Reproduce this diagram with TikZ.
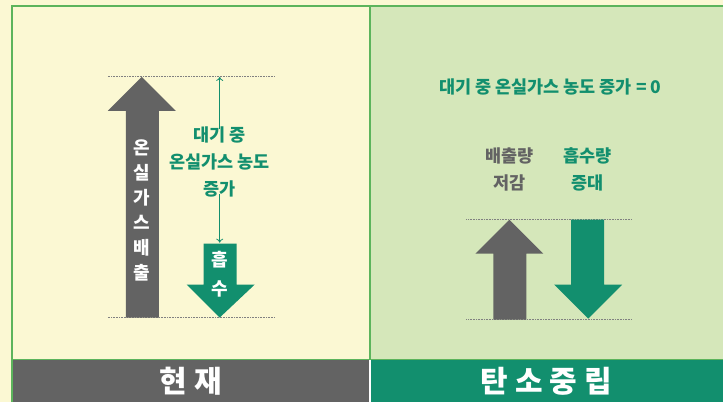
\documentclass[tikz,border=0pt]{standalone}
\usepackage{fontspec}
\newfontfamily\kr{Noto Sans CJK KR}
\usetikzlibrary{arrows.meta}
\definecolor{bgyellow}{RGB}{251,248,211}
\definecolor{bggreen}{RGB}{213,231,186}
\definecolor{framegreen}{RGB}{92,180,92}
\definecolor{ashgray}{RGB}{99,99,99}
\definecolor{sinkgreen}{RGB}{18,143,110}
\tikzset{
  guide/.style={gray, densely dotted, line width=0.6pt},
  label/.style={font=\kr\bfseries\fontsize{17.5}{27}\selectfont, align=center, inner sep=0pt},
  title/.style={font=\kr\bfseries\fontsize{30}{30}\selectfont, white, inner sep=0pt},
  pointer/.style={sinkgreen, line width=0.8pt, -{To[length=4pt,width=7pt]}}
}

\begin{document}
\begin{tikzpicture}[x=1pt,y=-1pt]
  \fill[bgyellow] (0,0) rectangle (724,403);
  \fill[bggreen] (371,6) rectangle (724,360);
  \fill[ashgray] (12,360) rectangle (370,403);
  \fill[sinkgreen] (372,360) rectangle (724,403);
  \fill[white] (370,360) rectangle (372,403);
  \draw[framegreen, line width=2pt] (724,6) -- (12,6) -- (12,403);
  \draw[framegreen, line width=2pt] (371,6) -- (371,360);
  \draw[framegreen, line width=1pt] (12,360) -- (724,360);

  \draw[guide] (108,76) -- (275,76);
  \draw[guide] (108,318) -- (275,318);
  \fill[ashgray] (126,318) -- (126,111) -- (108,111) -- (142,77) -- (176,111) -- (159,111) -- (159,318) -- cycle;
  \fill[sinkgreen] (204,244) -- (237,244) -- (237,285) -- (255,285) -- (220,318) -- (187,285) -- (204,285) -- cycle;
  \node[label, white, font=\kr\bfseries\fontsize{18}{25}\selectfont] (emit) at (142,211) {온\\실\\가\\스\\배\\출};
  \node[label, white, font=\kr\bfseries\fontsize{18}{29}\selectfont] (absorb) at (220,275) {흡\\수};
  \node[label, sinkgreen] (rise) at (220,162) {대기 중\\온실가스 농도\\증가};
  \coordinate (top) at (220,77);
  \coordinate (bottom) at (220,243);
  \draw[pointer] ([yshift=-3pt]rise.north) -- (top);
  \draw[pointer] ([yshift=3pt]rise.south) -- (bottom);

  \node[label, sinkgreen] (zero) at (551,87) {대기 중 온실가스 농도 증가 = 0};
  \node[label, ashgray] (cut) at (510,170) {배출량\\저감};
  \node[label, sinkgreen] (sink) at (588,170) {흡수량\\증대};
  \draw[guide] (467,220) -- (633,220);
  \draw[guide] (467,320) -- (633,320);
  \fill[ashgray] (494,320) -- (494,254) -- (476,254) -- (510,220) -- (544,254) -- (527,254) -- (527,320) -- cycle;
  \fill[sinkgreen] (572,220) -- (605,220) -- (605,285) -- (623,285) -- (589,319) -- (555,285) -- (572,285) -- cycle;

  \node[title] (now) at (191,382) {현 재};
  \node[title] (neutral) at (547,382) {탄 소 중 립};
\end{tikzpicture}
\end{document}
